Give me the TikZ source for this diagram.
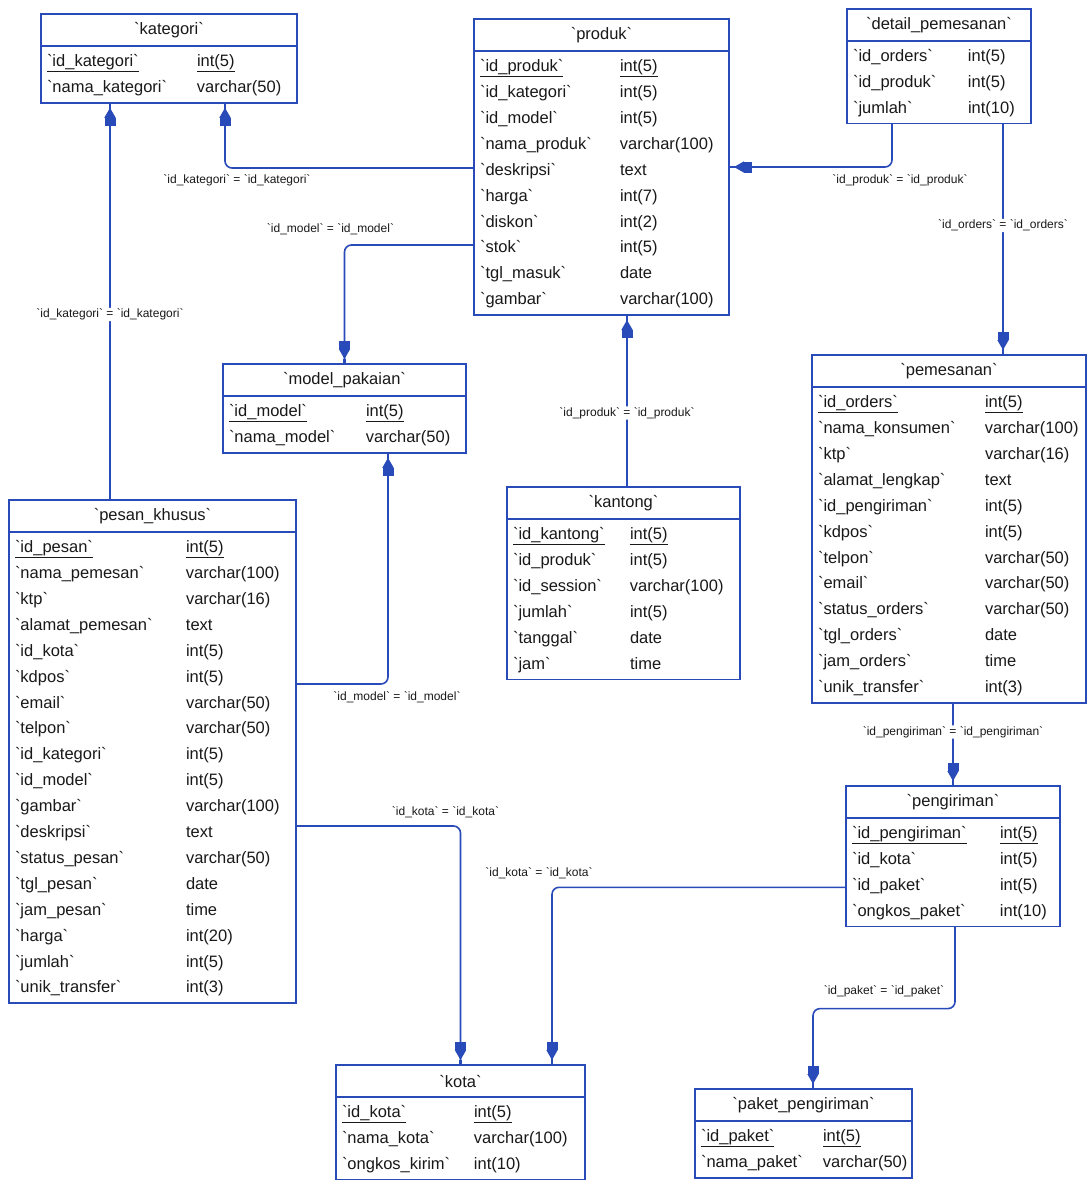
\documentclass[tikz,border=0pt]{standalone}
\usepackage{fontspec}
\setmainfont{Liberation Sans}[Ligatures=TeXOff]
\usetikzlibrary{positioning,arrows.meta}
\definecolor{lcol}{RGB}{40,75,185}
\definecolor{tcol}{RGB}{25,25,25}

\begin{document}
\begin{tikzpicture}[x=1pt,y=-1pt,
  thead/.style={draw=lcol,line width=1.6pt,outer sep=0pt,inner sep=0pt,minimum height=32pt,text=tcol,font=\fontsize{16.5}{20}\selectfont},
  tbody/.style={draw=lcol,line width=1.6pt,outer sep=0pt,inner xsep=6pt,inner ysep=2.5pt,align=left,text=tcol,font=\fontsize{16.5}{25.9}\selectfont},
  fk/.style={draw=lcol,line width=1.6pt,rounded corners=7pt,-{Rectangle[length=8pt,width=11pt,sep=0pt]Triangle[length=10pt,width=11pt,sep=0pt]Rectangle[length=5pt,width=2.4pt,sep=0pt]}},
  lbl/.style={fill=white,inner sep=1pt,text=tcol,font=\fontsize{12}{13}\selectfont}
]
\path[use as bounding box,fill=white] (0,0) rectangle (1088,1180);

% kategori
\node[thead,minimum width=256pt,anchor=north west] (kategori-h) at (41,14) {`kategori`};
\node[tbody,text width=244pt,below=0pt of kategori-h] (kategori) {\begin{tabular}{@{}p{150pt}@{}l@{}}
\underline{`id\_kategori`} & \underline{int(5)}\\
`nama\_kategori` & varchar(50)
\end{tabular}};

% produk
\node[thead,minimum width=255pt,anchor=north west] (produk-h) at (474,19) {`produk`};
\node[tbody,text width=243pt,below=0pt of produk-h] (produk) {\begin{tabular}{@{}p{140pt}@{}l@{}}
\underline{`id\_produk`} & \underline{int(5)}\\
`id\_kategori` & int(5)\\
`id\_model` & int(5)\\
`nama\_produk` & varchar(100)\\
`deskripsi` & text\\
`harga` & int(7)\\
`diskon` & int(2)\\
`stok` & int(5)\\
`tgl\_masuk` & date\\
`gambar` & varchar(100)
\end{tabular}};

% detail_pemesanan
\node[thead,minimum width=184pt,anchor=north west] (detail-h) at (847,9) {`detail\_pemesanan`};
\node[tbody,text width=172pt,below=0pt of detail-h] (detail) {\begin{tabular}{@{}p{115pt}@{}l@{}}
`id\_orders` & int(5)\\
`id\_produk` & int(5)\\
`jumlah` & int(10)
\end{tabular}};

% model_pakaian
\node[thead,minimum width=243pt,anchor=north west] (model-h) at (223,364) {`model\_pakaian`};
\node[tbody,text width=231pt,below=0pt of model-h] (model) {\begin{tabular}{@{}p{137pt}@{}l@{}}
\underline{`id\_model`} & \underline{int(5)}\\
`nama\_model` & varchar(50)
\end{tabular}};

% pesan_khusus
\node[thead,minimum width=287pt,anchor=north west] (pesan-h) at (9,500) {`pesan\_khusus`};
\node[tbody,text width=275pt,below=0pt of pesan-h] (pesan) {\begin{tabular}{@{}p{171pt}@{}l@{}}
\underline{`id\_pesan`} & \underline{int(5)}\\
`nama\_pemesan` & varchar(100)\\
`ktp` & varchar(16)\\
`alamat\_pemesan` & text\\
`id\_kota` & int(5)\\
`kdpos` & int(5)\\
`email` & varchar(50)\\
`telpon` & varchar(50)\\
`id\_kategori` & int(5)\\
`id\_model` & int(5)\\
`gambar` & varchar(100)\\
`deskripsi` & text\\
`status\_pesan` & varchar(50)\\
`tgl\_pesan` & date\\
`jam\_pesan` & time\\
`harga` & int(20)\\
`jumlah` & int(5)\\
`unik\_transfer` & int(3)
\end{tabular}};

% kantong
\node[thead,minimum width=233pt,anchor=north west] (kantong-h) at (507,487) {`kantong`};
\node[tbody,text width=221pt,below=0pt of kantong-h] (kantong) {\begin{tabular}{@{}p{117pt}@{}l@{}}
\underline{`id\_kantong`} & \underline{int(5)}\\
`id\_produk` & int(5)\\
`id\_session` & varchar(100)\\
`jumlah` & int(5)\\
`tanggal` & date\\
`jam` & time
\end{tabular}};

% pemesanan
\node[thead,minimum width=274pt,anchor=north west] (pemesanan-h) at (812,355) {`pemesanan`};
\node[tbody,text width=262pt,below=0pt of pemesanan-h] (pemesanan) {\begin{tabular}{@{}p{167pt}@{}l@{}}
\underline{`id\_orders`} & \underline{int(5)}\\
`nama\_konsumen` & varchar(100)\\
`ktp` & varchar(16)\\
`alamat\_lengkap` & text\\
`id\_pengiriman` & int(5)\\
`kdpos` & int(5)\\
`telpon` & varchar(50)\\
`email` & varchar(50)\\
`status\_orders` & varchar(50)\\
`tgl\_orders` & date\\
`jam\_orders` & time\\
`unik\_transfer` & int(3)
\end{tabular}};

% pengiriman
\node[thead,minimum width=214pt,anchor=north west] (pengiriman-h) at (846,786) {`pengiriman`};
\node[tbody,text width=202pt,below=0pt of pengiriman-h] (pengiriman) {\begin{tabular}{@{}p{148pt}@{}l@{}}
\underline{`id\_pengiriman`} & \underline{int(5)}\\
`id\_kota` & int(5)\\
`id\_paket` & int(5)\\
`ongkos\_paket` & int(10)
\end{tabular}};

% kota
\node[thead,minimum width=249pt,anchor=north west] (kota-h) at (336,1065) {`kota`};
\node[tbody,text width=237pt,below=0pt of kota-h] (kota) {\begin{tabular}{@{}p{132pt}@{}l@{}}
\underline{`id\_kota`} & \underline{int(5)}\\
`nama\_kota` & varchar(100)\\
`ongkos\_kirim` & int(10)
\end{tabular}};

% paket_pengiriman
\node[thead,minimum width=217pt,anchor=north west] (paket-h) at (695,1089) {`paket\_pengiriman`};
\node[tbody,text width=205pt,below=0pt of paket-h] (paket) {\begin{tabular}{@{}p{122pt}@{}l@{}}
\underline{`id\_paket`} & \underline{int(5)}\\
`nama\_paket` & varchar(50)
\end{tabular}};

% relations
\draw[fk] ([yshift=15pt]produk.west) -| node[lbl,pos=0.476,below=5pt] {`id\_kategori` = `id\_kategori`} ([xshift=56pt]kategori.south);
\draw[fk] ([xshift=-42.5pt]pesan-h.north) -- node[lbl,pos=0.467] {`id\_kategori` = `id\_kategori`} ([xshift=-59pt]kategori.south);
\draw[fk] ([yshift=-62pt]produk.west) -| node[lbl,pos=0.5,above=8pt,xshift=-14pt] {`id\_model` = `id\_model`} (model-h.north);
\draw[fk] ([yshift=83.6pt]pesan.east) -| node[lbl,pos=0.5,below=6pt,xshift=9pt] {`id\_model` = `id\_model`} ([xshift=43.5pt]model.south);
\draw[fk] ([xshift=3.5pt]kantong-h.north) -- node[lbl,pos=0.43] {`id\_produk` = `id\_produk`} ([xshift=25.5pt]produk.south);
\draw[fk] ([xshift=-47pt]detail.south) |- node[lbl,pos=0.5,below=6pt,xshift=8pt] {`id\_produk` = `id\_produk`} ([yshift=16pt]produk.east);
\draw[fk] ([xshift=64pt]detail.south) -- node[lbl,pos=0.44] {`id\_orders` = `id\_orders`} ([xshift=54pt]pemesanan-h.north);
\draw[fk] ([xshift=4pt]pemesanan.south) -- node[lbl,pos=0.35] {`id\_pengiriman` = `id\_pengiriman`} (pengiriman-h.north);
\draw[fk] ([yshift=-58.4pt]pesan.east) -| node[lbl,pos=0.5,above=6pt,xshift=-15pt] {`id\_kota` = `id\_kota`} (kota-h.north);
\draw[fk] ([yshift=-15pt]pengiriman.west) -| node[lbl,pos=0.5,above=7pt,xshift=-13pt] {`id\_kota` = `id\_kota`} ([xshift=91.5pt]kota-h.north);
\draw[fk] ([xshift=2pt]pengiriman.south) -- ++(0,82) -| node[lbl,pos=0.25,above=10pt] {`id\_paket` = `id\_paket`} ([xshift=9.5pt]paket-h.north);
\end{tikzpicture}
\end{document}
